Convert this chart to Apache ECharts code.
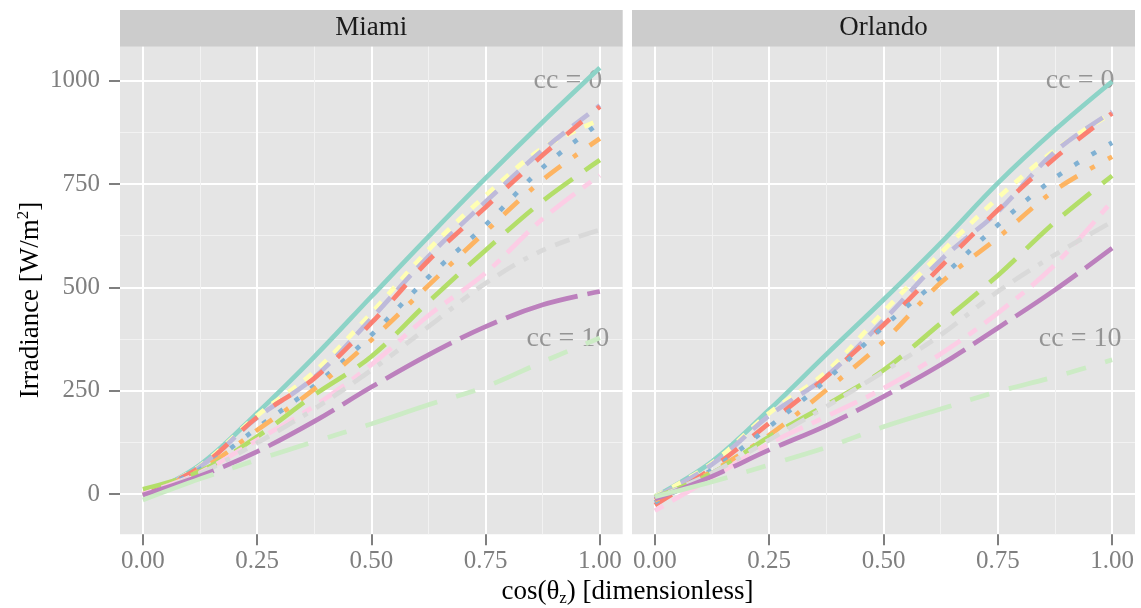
<!DOCTYPE html>
<html>
<head>
<meta charset="utf-8">
<script src="https://cdn.jsdelivr.net/npm/echarts/dist/echarts.min.js"></script>
<style>
  html, body { margin: 0; padding: 0; background: #ffffff; }
  #chart { width: 1141px; height: 608px; }
</style>
</head>
<body>
<div id="chart"></div>
<script>
// cos of the solar zenith angle (x) and the cloud-cover classes (one curve each)
const cosZenith = [0, 0.125, 0.25, 0.375, 0.5, 0.625, 0.75, 0.875, 1];
const cloudCover = [0, 1, 2, 3, 4, 5, 6, 7, 8, 9, 10];

// Irradiance [W/m2] per cloud-cover class, rows cc = 0 .. 10
const miamiIrradiance = [
  [-5, 71, 196, 332, 478, 623, 764, 900, 1031],
  [-5, 68, 190, 296, 438, 591, 722, 837, 905],
  [-3, 66, 185, 282, 425, 575, 707, 832, 940],
  [-3, 65, 186, 280, 414, 565, 694, 820, 937],
  [-3, 60, 160, 262, 385, 525, 651, 790, 898],
  [0, 58, 155, 254, 373, 505, 635, 760, 860],
  [12, 55, 139, 240, 333, 465, 590, 709, 808],
  [0, 52, 131, 213, 313, 432, 535, 666, 771],
  [-5, 50, 124, 206, 300, 405, 510, 590, 639],
  [-2, 44, 103, 176, 259, 337, 405, 458, 490],
  [-14, 37, 83, 127, 170, 216, 260, 320, 378]
];
const orlandoIrradiance = [
  [-6, 79, 204, 338, 470, 607, 752, 881, 998],
  [-6, 75, 196, 296, 441, 583, 716, 832, 922],
  [-8, 72, 190, 285, 420, 566, 683, 828, 925],
  [-26, 63, 172, 284, 409, 550, 687, 813, 921],
  [-20, 59, 163, 276, 405, 523, 651, 765, 850],
  [-15, 55, 143, 252, 369, 511, 620, 735, 816],
  [-8, 51, 139, 216, 300, 413, 529, 658, 770],
  [-40, 40, 122, 188, 256, 339, 438, 555, 709],
  [-10, 51, 131, 212, 296, 385, 490, 579, 659],
  [-12, 43, 107, 166, 236, 313, 402, 494, 595],
  [-6, 30, 71, 113, 163, 206, 248, 284, 325]
];

const cityNames = ['Miami', 'Orlando'];
const cityData = [miamiIrradiance, orlandoIrradiance];

// axis ticks
const xTicks = [0, 0.25, 0.5, 0.75, 1];
const xMinorTicks = [0.125, 0.375, 0.625, 0.875];
const yTicks = [0, 250, 500, 750, 1000];
const yMinorTicks = [125, 375, 625, 875];

// in-panel labels for the extreme classes
const noteX = [0.93, 0.93];
const noteY = [1000, 375];
const noteText = ['cc = 0', 'cc = 10'];

// ---- styling ----
const FONT = '"Liberation Serif", "DejaVu Serif", serif';
const palette = ['#8DD3C7', '#FFFFB3', '#BEBADA', '#FB8072', '#80B1D3', '#FDB462',
                 '#B3DE69', '#FCCDE5', '#D9D9D9', '#BC80BD', '#CCEBC5'];
const U = 5; // dash unit in px
const dashes = [
  'solid',
  [2, 2], [4, 2], [4, 4], [1, 3], [1, 3, 4, 3], [7, 3], [2, 2, 6, 2],
  [1, 2, 2, 2, 3, 2, 4, 2], [15, 2, 8, 2], [15, 4, 4, 4, 8, 4, 4, 4]
].map(d => Array.isArray(d) ? d.map(v => v * U) : d);

const panels = [
  { left: 120, width: 502.7 },
  { left: 632, width: 503 }
];
const PANEL_TOP = 46.7, PANEL_H = 487.6, STRIP_TOP = 10;

const grids = [], xAxes = [], yAxes = [], series = [], graphics = [];

panels.forEach((p, gi) => {
  grids.push({
    left: p.left, top: PANEL_TOP, width: p.width, height: PANEL_H,
    show: true, backgroundColor: '#E5E5E5', borderWidth: 0, containLabel: false
  });
  // minor grid lines
  xAxes.push({
    gridIndex: gi, type: 'value', position: 'bottom', min: -0.05, max: 1.05,
    axisLine: { show: false, onZero: false }, axisLabel: { show: false },
    axisTick: { show: false, customValues: xMinorTicks },
    splitLine: { show: true, lineStyle: { color: '#F2F2F2', width: 1 } }
  });
  // major axis
  xAxes.push({
    gridIndex: gi, type: 'value', position: 'bottom', min: -0.05, max: 1.05,
    axisLine: { show: false, onZero: false },
    axisTick: { show: true, length: 11, customValues: xTicks,
                lineStyle: { color: '#7F7F7F', width: 2 } },
    axisLabel: { show: true, customValues: xTicks, margin: 15,
                 formatter: v => v.toFixed(2),
                 color: '#7F7F7F', fontFamily: FONT, fontSize: 25 },
    splitLine: { show: true, lineStyle: { color: '#FFFFFF', width: 2 } }
  });
  yAxes.push({
    gridIndex: gi, type: 'value', position: 'left', min: -97, max: 1082,
    axisLine: { show: false, onZero: false }, axisLabel: { show: false },
    axisTick: { show: false, customValues: yMinorTicks },
    splitLine: { show: true, lineStyle: { color: '#F2F2F2', width: 1 } }
  });
  yAxes.push({
    gridIndex: gi, type: 'value', position: 'left', min: -97, max: 1082,
    axisLine: { show: false, onZero: false },
    axisTick: { show: gi === 0, length: 11, customValues: yTicks,
                lineStyle: { color: '#7F7F7F', width: 2 } },
    axisLabel: { show: gi === 0, customValues: yTicks, margin: 20,
                 formatter: v => String(v),
                 color: '#7F7F7F', fontFamily: FONT, fontSize: 25 },
    splitLine: { show: true, lineStyle: { color: '#FFFFFF', width: 2 } }
  });

  const rows = cityData[gi];
  cloudCover.forEach((cc, k) => {
    series.push({
      type: 'line', name: 'cc = ' + cc,
      xAxisIndex: gi * 2 + 1, yAxisIndex: gi * 2 + 1,
      data: cosZenith.map((x, i) => [x, rows[k][i]]),
      showSymbol: false, symbol: 'none',
      smooth: 0.35,
      lineStyle: { color: palette[k], width: 4.7, type: dashes[k], cap: 'butt' },
      emphasis: { disabled: true },
      silent: true, animation: false
    });
  });

  series.push({
    type: 'scatter', xAxisIndex: gi * 2 + 1, yAxisIndex: gi * 2 + 1,
    symbolSize: 0, silent: true, animation: false,
    data: noteX.map((x, i) => ({ value: [x, noteY[i]], name: noteText[i] })),
    label: {
      show: true, position: 'inside', formatter: d => d.name,
      color: '#7F7F7F', fontFamily: FONT, fontSize: 28
    }
  });

  // facet strip
  graphics.push({
    type: 'rect', silent: true,
    shape: { x: p.left, y: STRIP_TOP, width: p.width, height: PANEL_TOP - STRIP_TOP },
    style: { fill: '#CCCCCC' }
  });
  graphics.push({
    type: 'text', silent: true,
    x: p.left + p.width / 2, y: (STRIP_TOP + PANEL_TOP) / 2,
    style: { text: cityNames[gi], fill: '#1A1A1A', fontFamily: FONT, fontSize: 27,
             align: 'center', verticalAlign: 'middle' }
  });
});

// axis titles
graphics.push({
  type: 'text', silent: true, x: 627.5, y: 592,
  style: {
    text: '{t|cos(θ}{s|z}{t|) [dimensionless]}',
    align: 'center', verticalAlign: 'middle',
    rich: {
      t: { fontFamily: FONT, fontSize: 27, fill: '#000', lineHeight: 30 },
      s: { fontFamily: FONT, fontSize: 17, fill: '#000', lineHeight: 15, verticalAlign: 'bottom' }
    }
  }
});
graphics.push({
  type: 'text', silent: true, x: 31, y: 300, rotation: Math.PI / 2,
  style: {
    text: '{t|Irradiance [W/m}{p|2}{t|]}',
    align: 'center', verticalAlign: 'middle',
    rich: {
      t: { fontFamily: FONT, fontSize: 27, fill: '#000', lineHeight: 32 },
      p: { fontFamily: FONT, fontSize: 17, fill: '#000', lineHeight: 15, verticalAlign: 'top' }
    }
  }
});

const chart = echarts.init(document.getElementById('chart'), null, { renderer: 'canvas' });
chart.setOption({
  animation: false,
  backgroundColor: '#FFFFFF',
  grid: grids, xAxis: xAxes, yAxis: yAxes,
  series: series,
  graphic: graphics
});
</script>
</body>
</html>
